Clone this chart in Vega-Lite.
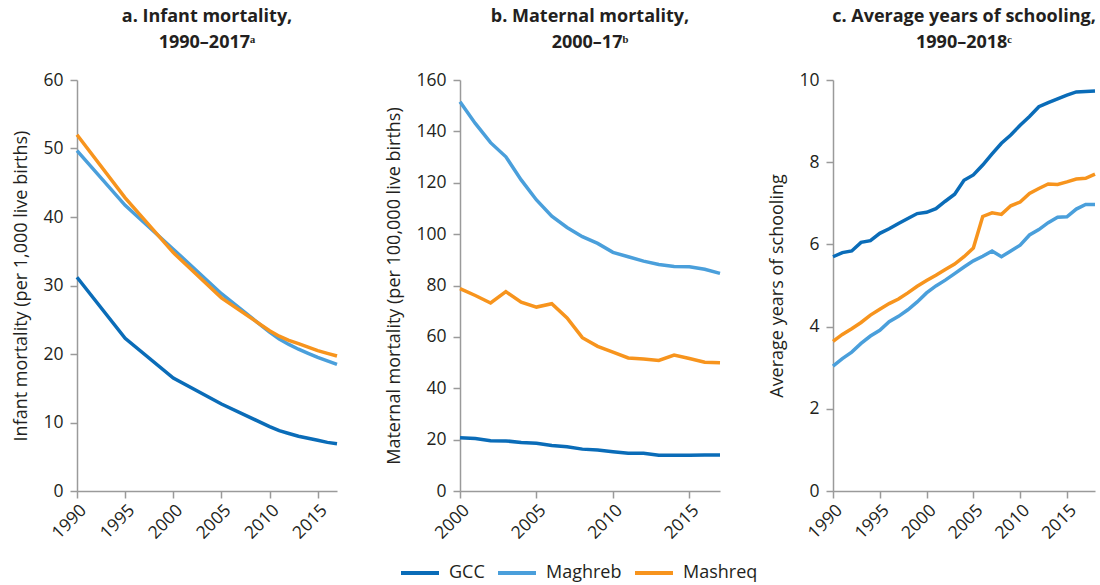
{
  "$schema": "https://vega.github.io/schema/vega-lite/v6.json",
  "padding": {"left": 12, "top": 8, "right": 5, "bottom": 2},
  "datasets": {
    "infant": [
      {"year": 1990, "region": "GCC", "value": 31.2},
      {"year": 1995, "region": "GCC", "value": 22.3},
      {"year": 2000, "region": "GCC", "value": 16.5},
      {"year": 2005, "region": "GCC", "value": 12.7},
      {"year": 2010, "region": "GCC", "value": 9.4},
      {"year": 2011, "region": "GCC", "value": 8.8},
      {"year": 2012, "region": "GCC", "value": 8.4},
      {"year": 2013, "region": "GCC", "value": 8.0},
      {"year": 2014, "region": "GCC", "value": 7.7},
      {"year": 2015, "region": "GCC", "value": 7.4},
      {"year": 2016, "region": "GCC", "value": 7.1},
      {"year": 2017, "region": "GCC", "value": 6.9},
      {"year": 1990, "region": "Maghreb", "value": 49.7},
      {"year": 1995, "region": "Maghreb", "value": 41.7},
      {"year": 2000, "region": "Maghreb", "value": 35.3},
      {"year": 2005, "region": "Maghreb", "value": 28.8},
      {"year": 2010, "region": "Maghreb", "value": 23.2},
      {"year": 2011, "region": "Maghreb", "value": 22.2},
      {"year": 2012, "region": "Maghreb", "value": 21.4},
      {"year": 2013, "region": "Maghreb", "value": 20.7},
      {"year": 2014, "region": "Maghreb", "value": 20.1},
      {"year": 2015, "region": "Maghreb", "value": 19.5},
      {"year": 2016, "region": "Maghreb", "value": 19.0},
      {"year": 2017, "region": "Maghreb", "value": 18.5},
      {"year": 1990, "region": "Mashreq", "value": 52.0},
      {"year": 1995, "region": "Mashreq", "value": 42.8},
      {"year": 2000, "region": "Mashreq", "value": 34.8},
      {"year": 2005, "region": "Mashreq", "value": 28.2},
      {"year": 2010, "region": "Mashreq", "value": 23.4},
      {"year": 2011, "region": "Mashreq", "value": 22.6},
      {"year": 2012, "region": "Mashreq", "value": 22.0},
      {"year": 2013, "region": "Mashreq", "value": 21.5},
      {"year": 2014, "region": "Mashreq", "value": 21.0},
      {"year": 2015, "region": "Mashreq", "value": 20.5},
      {"year": 2016, "region": "Mashreq", "value": 20.1},
      {"year": 2017, "region": "Mashreq", "value": 19.7}
    ],
    "maternal": [
      {"year": 2000, "region": "GCC", "value": 20.7},
      {"year": 2001, "region": "GCC", "value": 20.4},
      {"year": 2002, "region": "GCC", "value": 19.6},
      {"year": 2003, "region": "GCC", "value": 19.5},
      {"year": 2004, "region": "GCC", "value": 18.9},
      {"year": 2005, "region": "GCC", "value": 18.6},
      {"year": 2006, "region": "GCC", "value": 17.7},
      {"year": 2007, "region": "GCC", "value": 17.2},
      {"year": 2008, "region": "GCC", "value": 16.3},
      {"year": 2009, "region": "GCC", "value": 16.0},
      {"year": 2010, "region": "GCC", "value": 15.3},
      {"year": 2011, "region": "GCC", "value": 14.7},
      {"year": 2012, "region": "GCC", "value": 14.7},
      {"year": 2013, "region": "GCC", "value": 13.9},
      {"year": 2014, "region": "GCC", "value": 13.9},
      {"year": 2015, "region": "GCC", "value": 13.9},
      {"year": 2016, "region": "GCC", "value": 14.0},
      {"year": 2017, "region": "GCC", "value": 14.0},
      {"year": 2000, "region": "Maghreb", "value": 151.5},
      {"year": 2001, "region": "Maghreb", "value": 143.1},
      {"year": 2002, "region": "Maghreb", "value": 135.6},
      {"year": 2003, "region": "Maghreb", "value": 130.1},
      {"year": 2004, "region": "Maghreb", "value": 121.1},
      {"year": 2005, "region": "Maghreb", "value": 113.3},
      {"year": 2006, "region": "Maghreb", "value": 107.0},
      {"year": 2007, "region": "Maghreb", "value": 102.6},
      {"year": 2008, "region": "Maghreb", "value": 99.0},
      {"year": 2009, "region": "Maghreb", "value": 96.4},
      {"year": 2010, "region": "Maghreb", "value": 92.9},
      {"year": 2011, "region": "Maghreb", "value": 91.2},
      {"year": 2012, "region": "Maghreb", "value": 89.5},
      {"year": 2013, "region": "Maghreb", "value": 88.2},
      {"year": 2014, "region": "Maghreb", "value": 87.4},
      {"year": 2015, "region": "Maghreb", "value": 87.3},
      {"year": 2016, "region": "Maghreb", "value": 86.3},
      {"year": 2017, "region": "Maghreb", "value": 84.7},
      {"year": 2000, "region": "Mashreq", "value": 78.8},
      {"year": 2001, "region": "Mashreq", "value": 76.1},
      {"year": 2002, "region": "Mashreq", "value": 73.2},
      {"year": 2003, "region": "Mashreq", "value": 77.6},
      {"year": 2004, "region": "Mashreq", "value": 73.5},
      {"year": 2005, "region": "Mashreq", "value": 71.6},
      {"year": 2006, "region": "Mashreq", "value": 72.9},
      {"year": 2007, "region": "Mashreq", "value": 67.4},
      {"year": 2008, "region": "Mashreq", "value": 59.7},
      {"year": 2009, "region": "Mashreq", "value": 56.3},
      {"year": 2010, "region": "Mashreq", "value": 54.1},
      {"year": 2011, "region": "Mashreq", "value": 51.8},
      {"year": 2012, "region": "Mashreq", "value": 51.4},
      {"year": 2013, "region": "Mashreq", "value": 50.8},
      {"year": 2014, "region": "Mashreq", "value": 52.9},
      {"year": 2015, "region": "Mashreq", "value": 51.6},
      {"year": 2016, "region": "Mashreq", "value": 50.1},
      {"year": 2017, "region": "Mashreq", "value": 49.9}
    ],
    "school": [
      {"year": 1990, "region": "GCC", "value": 5.70},
      {"year": 1991, "region": "GCC", "value": 5.80},
      {"year": 1992, "region": "GCC", "value": 5.84},
      {"year": 1993, "region": "GCC", "value": 6.05},
      {"year": 1994, "region": "GCC", "value": 6.09},
      {"year": 1995, "region": "GCC", "value": 6.27},
      {"year": 1996, "region": "GCC", "value": 6.38},
      {"year": 1997, "region": "GCC", "value": 6.51},
      {"year": 1998, "region": "GCC", "value": 6.63},
      {"year": 1999, "region": "GCC", "value": 6.75},
      {"year": 2000, "region": "GCC", "value": 6.78},
      {"year": 2001, "region": "GCC", "value": 6.87},
      {"year": 2002, "region": "GCC", "value": 7.05},
      {"year": 2003, "region": "GCC", "value": 7.22},
      {"year": 2004, "region": "GCC", "value": 7.56},
      {"year": 2005, "region": "GCC", "value": 7.69},
      {"year": 2006, "region": "GCC", "value": 7.93},
      {"year": 2007, "region": "GCC", "value": 8.20},
      {"year": 2008, "region": "GCC", "value": 8.46},
      {"year": 2009, "region": "GCC", "value": 8.66},
      {"year": 2010, "region": "GCC", "value": 8.90},
      {"year": 2011, "region": "GCC", "value": 9.11},
      {"year": 2012, "region": "GCC", "value": 9.35},
      {"year": 2013, "region": "GCC", "value": 9.45},
      {"year": 2014, "region": "GCC", "value": 9.54},
      {"year": 2015, "region": "GCC", "value": 9.63},
      {"year": 2016, "region": "GCC", "value": 9.71},
      {"year": 2017, "region": "GCC", "value": 9.72},
      {"year": 2018, "region": "GCC", "value": 9.73},
      {"year": 1990, "region": "Maghreb", "value": 3.04},
      {"year": 1991, "region": "Maghreb", "value": 3.22},
      {"year": 1992, "region": "Maghreb", "value": 3.38},
      {"year": 1993, "region": "Maghreb", "value": 3.59},
      {"year": 1994, "region": "Maghreb", "value": 3.77},
      {"year": 1995, "region": "Maghreb", "value": 3.91},
      {"year": 1996, "region": "Maghreb", "value": 4.12},
      {"year": 1997, "region": "Maghreb", "value": 4.25},
      {"year": 1998, "region": "Maghreb", "value": 4.41},
      {"year": 1999, "region": "Maghreb", "value": 4.60},
      {"year": 2000, "region": "Maghreb", "value": 4.82},
      {"year": 2001, "region": "Maghreb", "value": 4.99},
      {"year": 2002, "region": "Maghreb", "value": 5.13},
      {"year": 2003, "region": "Maghreb", "value": 5.29},
      {"year": 2004, "region": "Maghreb", "value": 5.45},
      {"year": 2005, "region": "Maghreb", "value": 5.60},
      {"year": 2006, "region": "Maghreb", "value": 5.71},
      {"year": 2007, "region": "Maghreb", "value": 5.84},
      {"year": 2008, "region": "Maghreb", "value": 5.70},
      {"year": 2009, "region": "Maghreb", "value": 5.84},
      {"year": 2010, "region": "Maghreb", "value": 5.98},
      {"year": 2011, "region": "Maghreb", "value": 6.23},
      {"year": 2012, "region": "Maghreb", "value": 6.36},
      {"year": 2013, "region": "Maghreb", "value": 6.53},
      {"year": 2014, "region": "Maghreb", "value": 6.66},
      {"year": 2015, "region": "Maghreb", "value": 6.67},
      {"year": 2016, "region": "Maghreb", "value": 6.86},
      {"year": 2017, "region": "Maghreb", "value": 6.97},
      {"year": 2018, "region": "Maghreb", "value": 6.97},
      {"year": 1990, "region": "Mashreq", "value": 3.64},
      {"year": 1991, "region": "Mashreq", "value": 3.81},
      {"year": 1992, "region": "Mashreq", "value": 3.95},
      {"year": 1993, "region": "Mashreq", "value": 4.10},
      {"year": 1994, "region": "Mashreq", "value": 4.28},
      {"year": 1995, "region": "Mashreq", "value": 4.42},
      {"year": 1996, "region": "Mashreq", "value": 4.56},
      {"year": 1997, "region": "Mashreq", "value": 4.67},
      {"year": 1998, "region": "Mashreq", "value": 4.82},
      {"year": 1999, "region": "Mashreq", "value": 4.98},
      {"year": 2000, "region": "Mashreq", "value": 5.12},
      {"year": 2001, "region": "Mashreq", "value": 5.25},
      {"year": 2002, "region": "Mashreq", "value": 5.39},
      {"year": 2003, "region": "Mashreq", "value": 5.52},
      {"year": 2004, "region": "Mashreq", "value": 5.70},
      {"year": 2005, "region": "Mashreq", "value": 5.91},
      {"year": 2006, "region": "Mashreq", "value": 6.68},
      {"year": 2007, "region": "Mashreq", "value": 6.77},
      {"year": 2008, "region": "Mashreq", "value": 6.73},
      {"year": 2009, "region": "Mashreq", "value": 6.94},
      {"year": 2010, "region": "Mashreq", "value": 7.03},
      {"year": 2011, "region": "Mashreq", "value": 7.24},
      {"year": 2012, "region": "Mashreq", "value": 7.36},
      {"year": 2013, "region": "Mashreq", "value": 7.47},
      {"year": 2014, "region": "Mashreq", "value": 7.46},
      {"year": 2015, "region": "Mashreq", "value": 7.52},
      {"year": 2016, "region": "Mashreq", "value": 7.59},
      {"year": 2017, "region": "Mashreq", "value": 7.61},
      {"year": 2018, "region": "Mashreq", "value": 7.71}
    ]
  },
  "spacing": 41,
  "hconcat": [
    {
      "width": 260,
      "height": 411,
      "title": {"text": ["a. Infant mortality,", "1990–2017ᵃ"]},
      "data": {"name": "infant"},
      "mark": {"type": "line", "strokeWidth": 3.5},
      "encoding": {
        "x": {"field": "year", "type": "quantitative", "title": null,
              "scale": {"domain": [1990, 2017], "nice": false, "zero": false},
              "axis": {"values": [1990, 1995, 2000, 2005, 2010, 2015], "format": "d"}},
        "y": {"field": "value", "type": "quantitative", "title": "Infant mortality (per 1,000 live births)",
              "scale": {"domain": [0, 60], "nice": false},
              "axis": {"values": [0, 10, 20, 30, 40, 50, 60]}},
        "color": {"field": "region", "type": "nominal",
                  "scale": {"domain": ["GCC", "Maghreb", "Mashreq"], "range": ["#0a6cb8", "#4a9fdb", "#f7941d"]}}
      }
    },
    {
      "width": 260,
      "height": 411,
      "title": {"text": ["b. Maternal mortality,", "2000–17ᵇ"]},
      "data": {"name": "maternal"},
      "mark": {"type": "line", "strokeWidth": 3.5},
      "encoding": {
        "x": {"field": "year", "type": "quantitative", "title": null,
              "scale": {"domain": [2000, 2017], "nice": false, "zero": false},
              "axis": {"values": [2000, 2005, 2010, 2015], "format": "d"}},
        "y": {"field": "value", "type": "quantitative", "title": "Maternal mortality (per 100,000 live births)",
              "scale": {"domain": [0, 160], "nice": false},
              "axis": {"values": [0, 20, 40, 60, 80, 100, 120, 140, 160]}},
        "color": {"field": "region", "type": "nominal",
                  "scale": {"domain": ["GCC", "Maghreb", "Mashreq"], "range": ["#0a6cb8", "#4a9fdb", "#f7941d"]}}
      }
    },
    {
      "width": 262,
      "height": 411,
      "title": {"text": ["c. Average years of schooling,", "1990–2018ᶜ"]},
      "data": {"name": "school"},
      "mark": {"type": "line", "strokeWidth": 3.5},
      "encoding": {
        "x": {"field": "year", "type": "quantitative", "title": null,
              "scale": {"domain": [1990, 2018], "nice": false, "zero": false},
              "axis": {"values": [1990, 1995, 2000, 2005, 2010, 2015], "format": "d"}},
        "y": {"field": "value", "type": "quantitative", "title": "Average years of schooling",
              "scale": {"domain": [0, 10], "nice": false},
              "axis": {"values": [0, 2, 4, 6, 8, 10]}},
        "color": {"field": "region", "type": "nominal",
                  "scale": {"domain": ["GCC", "Maghreb", "Mashreq"], "range": ["#0a6cb8", "#4a9fdb", "#f7941d"]}}
      }
    }
  ],
  "config": {
    "font": "Open Sans",
    "view": {"stroke": null},
    "title": {"fontSize": 18, "fontWeight": "bold", "color": "#231f20", "anchor": "middle", "lineHeight": 26, "offset": 19},
    "axis": {
      "grid": false,
      "domainColor": "#9a9a9a",
      "tickColor": "#9a9a9a",
      "domainWidth": 1.5,
      "tickWidth": 1.5,
      "tickSize": 7,
      "labelColor": "#231f20",
      "titleColor": "#231f20",
      "labelFontSize": 17.5,
      "titleFontSize": 18,
      "titleFontWeight": "normal",
      "labelPadding": 4
    },
    "axisY": {"titlePadding": 12, "labelPadding": 7},
    "axisX": {"labelAngle": -45, "labelPadding": 3},
    "legend": {
      "orient": "none",
      "direction": "horizontal",
      "legendX": 322,
      "legendY": 472,
      "title": null,
      "symbolType": "stroke",
      "symbolStrokeWidth": 4,
      "symbolSize": 1444,
      "labelFontSize": 18,
      "labelColor": "#231f20",
      "columnPadding": 5,
      "labelOffset": 8
    }
  }
}
